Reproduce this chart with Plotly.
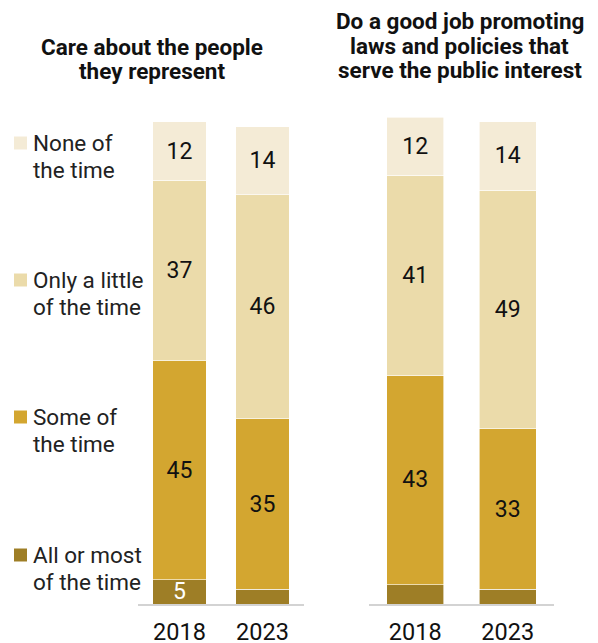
import plotly.graph_objects as go

years = ["2018", "2023"]
categories = ["All or most of the time", "Some of the time", "Only a little of the time", "None of the time"]
legend_lines = [["All or most", "of the time"], ["Some of", "the time"],
                ["Only a little", "of the time"], ["None of", "the time"]]
colors = ["#9E7E26", "#D3A630", "#EBDBAA", "#F4EBD6"]
text_colors = ["white", "#111111", "#111111", "#111111"]

care_values = {
    "All or most of the time": [5, 3],
    "Some of the time": [45, 35],
    "Only a little of the time": [37, 46],
    "None of the time": [12, 14],
}
laws_values = {
    "All or most of the time": [4, 3],
    "Some of the time": [43, 33],
    "Only a little of the time": [41, 49],
    "None of the time": [12, 14],
}
title_left = ["Care about the people", "they represent"]
title_right = ["Do a good job promoting", "laws and policies that", "serve the public interest"]

# page has an 8px body margin; figure starts at (8, 8) and runs to the window's bottom edge
OFF = 8
W, H = 598 - 2 * OFF, 643 - OFF
FONT = "Roboto"


def px(x):
    return (x - OFF) / W


def py(y):
    return 1 - (y - OFF) / H


fig = go.Figure()
for vals, xa, bw in [(care_values, "x", 0.64), (laws_values, "x2", 0.62)]:
    for i, cat in enumerate(categories):
        v = vals[cat]
        fig.add_trace(go.Bar(
            x=years, y=v, xaxis=xa, yaxis="y",
            marker=dict(color=colors[i], line=dict(color="white", width=0.6)),
            width=bw,
            text=[str(t) if t >= 5 else "" for t in v],
            textposition="inside", insidetextanchor="middle", textangle=0,
            textfont=dict(family=FONT, size=23, color=text_colors[i]),
            showlegend=False, hoverinfo="skip", name=cat,
        ))

axis_common = dict(type="category", range=[-0.5, 1.5], showgrid=False, zeroline=False,
                   showline=True, linecolor="#d3d3d3", linewidth=1.5, ticks="",
                   ticklabelstandoff=6, automargin=False,
                   tickfont=dict(family=FONT, size=23.5, color="#111111"), anchor="y")
fig.update_layout(
    width=W, height=H, margin=dict(l=0, r=0, t=0, b=0),
    paper_bgcolor="white", plot_bgcolor="white", barmode="stack",
    uniformtext=dict(minsize=23, mode="show"),
    xaxis=dict(domain=[px(138), px(304)], **axis_common),
    xaxis2=dict(domain=[px(369), px(554)], **axis_common),
    yaxis=dict(domain=[py(604), py(117)], range=[0, 100], visible=False, automargin=False),
    font=dict(family=FONT),
)

# Panel titles (one annotation per line for tight leading)
for line, yc in zip(title_left, [46.5, 70.5]):
    fig.add_annotation(text="<b>" + line + "</b>", x=px(151.5), y=py(yc), xref="paper", yref="paper",
                       xanchor="center", yanchor="middle", showarrow=False,
                       font=dict(family=FONT, size=22.5, color="#111111"))
for line, yc in zip(title_right, [21, 46, 70]):
    fig.add_annotation(text="<b>" + line + "</b>", x=px(459.5), y=py(yc), xref="paper", yref="paper",
                       xanchor="center", yanchor="middle", showarrow=False,
                       font=dict(family=FONT, size=22.5, color="#111111"))

# Legend (left side)
legend_y = [555, 417, 280, 143]  # cap-centre y (px) of first line of each label
for i, lines in enumerate(legend_lines):
    for j, line in enumerate(lines):
        fig.add_annotation(text=line, x=px(31), y=py(legend_y[i] + 27 * j), xref="paper", yref="paper",
                           xanchor="left", yanchor="middle", showarrow=False,
                           font=dict(family=FONT, size=22.5, color="#222222"))
    fig.add_shape(type="rect", xref="paper", yref="paper",
                  x0=px(14), x1=px(27),
                  y0=py(legend_y[i] + 6.5), y1=py(legend_y[i] - 6.5),
                  fillcolor=colors[i], line=dict(width=0))

fig.write_html("out.html")
